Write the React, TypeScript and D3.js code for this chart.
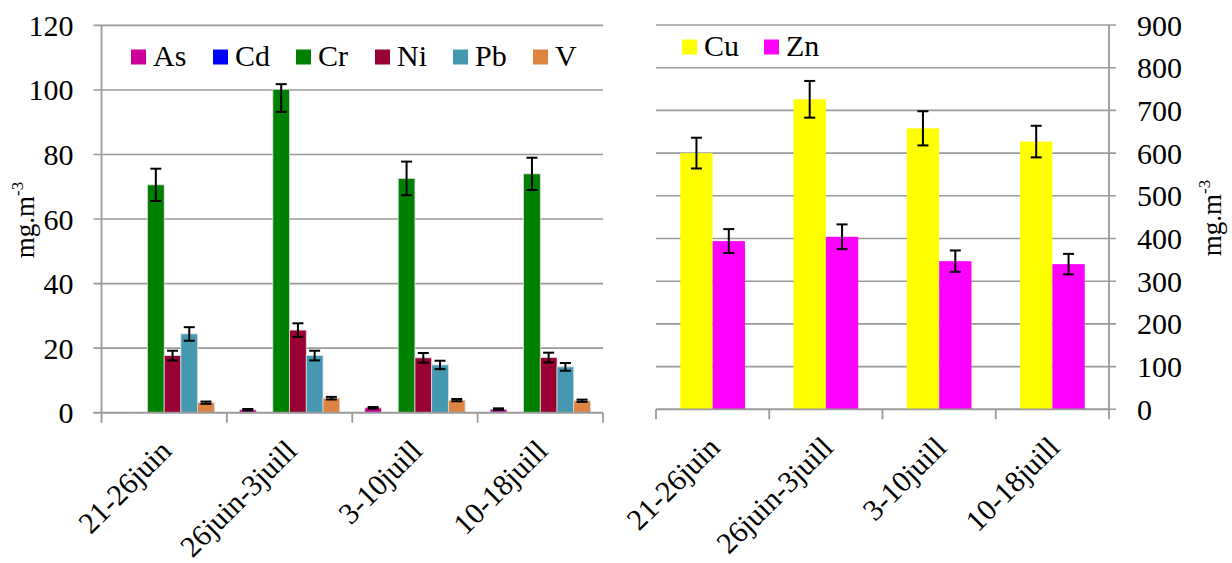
import React from "react";
import * as d3 from "d3";

const categories = ["21-26juin", "26juin-3juill", "3-10juill", "10-18juill"];

const leftSeriesNames = ["As", "Cd", "Cr", "Ni", "Pb", "V"];
const leftColors = ["#CC0099", "#0000FF", "#008000", "#990033", "#4499B1", "#DD8442"];
const asValues = [0.1, 0.9, 1.5, 1.1];
const asErrors = [0, 0.25, 0.25, 0.25];
const cdValues = [0.1, 0.1, 0.1, 0.1];
const cdErrors = [0, 0, 0, 0];
const crValues = [70.6, 100.2, 72.6, 74.0];
const crErrors = [5.0, 7.0, 5.2, 5.0];
const crErrorsUp = [5.0, 1.6, 5.2, 5.0];
const niValues = [17.7, 25.6, 17.0, 17.1];
const niErrors = [1.5, 2.1, 1.5, 1.5];
const pbValues = [24.4, 17.7, 14.8, 14.2];
const pbErrors = [2.1, 1.5, 1.3, 1.2];
const vValues = [3.1, 4.5, 3.9, 3.7];
const vErrors = [0.35, 0.4, 0.35, 0.35];
const leftTicks = [0, 20, 40, 60, 80, 100, 120];

const rightSeriesNames = ["Cu", "Zn"];
const rightColors = ["#FFFF00", "#FF00FF"];
const cuValues = [600, 726, 658, 627];
const cuErrors = [36, 43, 40, 37];
const znValues = [394, 404, 347, 340];
const znErrors = [28, 29, 25, 24];
const rightTicks = [0, 100, 200, 300, 400, 500, 600, 700, 800, 900];

const yTitle = "mg.m";
const yTitleSup = "-3";

const FONT = "Liberation Serif";
const GRID = "#9a9a9a";

type Series = { name: string; color: string; values: number[]; errors: number[]; errorsUp?: number[] };

function BarPanel(props: {
  series: Series[];
  x0: number;
  x1: number;
  yScale: d3.ScaleLinear<number, number>;
  ticks: number[];
  side: "left" | "right";
  barStroke: string;
  capW: number;
}) {
  const { series, x0, x1, yScale, ticks, side, barStroke, capW } = props;
  const xBand = d3.scaleBand<string>().domain(categories).range([x0, x1]).padding(0);
  const inner = d3
    .scaleBand<string>()
    .domain(series.map((s) => s.name))
    .range([0, xBand.bandwidth()])
    .paddingInner(0)
    .paddingOuter(0.75);
  const yBase = yScale(0);
  const yTop = yScale(ticks[ticks.length - 1]);
  const axisX = side === "left" ? x0 : x1;
  const gridX0 = side === "left" ? x0 - 8 : x0;
  const gridX1 = side === "left" ? x1 : x1 + 7;
  return (
    <g>
      {ticks.map((t) => (
        <line key={"g" + t} x1={gridX0} x2={gridX1} y1={yScale(t)} y2={yScale(t)} stroke={GRID} strokeWidth={1.6} />
      ))}
      <line x1={axisX} x2={axisX} y1={yTop} y2={yBase} stroke={GRID} strokeWidth={1.8} />
      {xBand.domain().concat(["__end"]).map((c, i) => {
        const xx = i < categories.length ? (xBand(c) as number) : x1;
        return <line key={"xt" + i} x1={xx} x2={xx} y1={yBase} y2={yBase + 10} stroke={GRID} strokeWidth={1.8} />;
      })}
      {ticks.map((t) => (
        <text
          key={"tl" + t}
          x={side === "left" ? x0 - 28 : x1 + 28}
          y={yScale(t)}
          dy="0.35em"
          textAnchor={side === "left" ? "end" : "start"}
          fontFamily={FONT}
          style={{ fontFamily: FONT }}
          fontSize={30}
          fill="#000"
        >
          {t}
        </text>
      ))}
      {categories.map((c, ci) =>
        series.map((s) => {
          const bx = (xBand(c) as number) + (inner(s.name) as number);
          const v = s.values[ci];
          const yv = yScale(v);
          return (
            <rect
              key={c + s.name}
              x={bx}
              y={yv}
              width={inner.bandwidth()}
              height={Math.max(0.6, yBase - yv)}
              fill={s.color}
              stroke={barStroke}
              strokeWidth={barStroke === "none" ? 0 : 0.8}
            />
          );
        })
      )}
      {categories.map((c, ci) =>
        series.map((s) => {
          const e = s.errors[ci];
          if (!e) return null;
          const eu = s.errorsUp ? s.errorsUp[ci] : e;
          const cx = (xBand(c) as number) + (inner(s.name) as number) + inner.bandwidth() / 2;
          const v = s.values[ci];
          const ya = yScale(v + eu);
          const yb = yScale(v - e);
          return (
            <g key={"e" + c + s.name} stroke="#000" strokeWidth={2}>
              <line x1={cx} x2={cx} y1={ya} y2={yb} />
              <line x1={cx - capW / 2} x2={cx + capW / 2} y1={ya} y2={ya} />
              <line x1={cx - capW / 2} x2={cx + capW / 2} y1={yb} y2={yb} />
            </g>
          );
        })
      )}
      <line x1={gridX0} x2={x1} y1={yBase} y2={yBase} stroke={GRID} strokeWidth={1.8} />
      {categories.map((c) => {
        const cx = (xBand(c) as number) + xBand.bandwidth() / 2;
        const px = cx + 9;
        const py = yBase + 40;
        return (
          <text
            key={"cl" + c}
            x={px}
            y={py}
            transform={`rotate(-45, ${px}, ${py})`}
            textAnchor="end"
            fontFamily={FONT}
            style={{ fontFamily: FONT }}
            fontSize={30}
            fill="#000"
          >
            {c}
          </text>
        );
      })}
    </g>
  );
}

function Legend(props: { names: string[]; colors: string[]; xs: number[]; y: number }) {
  const { names, colors, xs, y } = props;
  return (
    <g>
      {names.map((n, i) => (
        <g key={n}>
          <rect x={xs[i]} y={y} width={15} height={15} fill={colors[i]} />
          <text x={xs[i] + 22} y={y + 16.5} fontFamily={FONT} style={{ fontFamily: FONT }} fontSize={30} fill="#000">
            {n}
          </text>
        </g>
      ))}
    </g>
  );
}

function YTitle(props: { x: number; y: number }) {
  const { x, y } = props;
  return (
    <text
      x={x}
      y={y}
      transform={`rotate(-90, ${x}, ${y})`}
      textAnchor="middle"
      dy="0.35em"
      fontFamily={FONT}
      style={{ fontFamily: FONT }}
      fontSize={27}
      fill="#000"
    >
      {yTitle}
      <tspan fontSize={17} dy={-11}>
        {yTitleSup}
      </tspan>
    </text>
  );
}

export default function App() {
  const leftValues = [asValues, cdValues, crValues, niValues, pbValues, vValues];
  const leftErrs = [asErrors, cdErrors, crErrors, niErrors, pbErrors, vErrors];
  const leftSeries: Series[] = leftSeriesNames.map((n, i) => ({
    name: n,
    color: leftColors[i],
    values: leftValues[i],
    errors: leftErrs[i],
    errorsUp: n === "Cr" ? crErrorsUp : undefined,
  }));
  const rightSeries: Series[] = [
    { name: rightSeriesNames[0], color: rightColors[0], values: cuValues, errors: cuErrors },
    { name: rightSeriesNames[1], color: rightColors[1], values: znValues, errors: znErrors },
  ];
  const yLeft = d3.scaleLinear().domain([0, 120]).range([412.7, 25.4]);
  const yRight = d3.scaleLinear().domain([0, 900]).range([409.3, 25]);

  return (
    <svg
      width={1232}
      height={563}
      fontFamily={FONT}
      style={{ position: "absolute", left: 0, top: 0, background: "#fff", fontFamily: FONT }}
    >
      <rect x={0} y={0} width={1232} height={563} fill="#fff" />
      <BarPanel series={leftSeries} x0={101.5} x1={603} yScale={yLeft} ticks={leftTicks} side="left" barStroke="#dcdcdc" capW={11} />
      <BarPanel series={rightSeries} x0={656} x1={1109} yScale={yRight} ticks={rightTicks} side="right" barStroke="none" capW={11} />
      <Legend names={leftSeriesNames} colors={leftColors} xs={[131, 213, 296, 375, 453, 533]} y={49.5} />
      <Legend names={rightSeriesNames} colors={rightColors} xs={[682, 764]} y={39.5} />
      <YTitle x={25} y={220} />
      <YTitle x={1212} y={218} />
    </svg>
  );
}
